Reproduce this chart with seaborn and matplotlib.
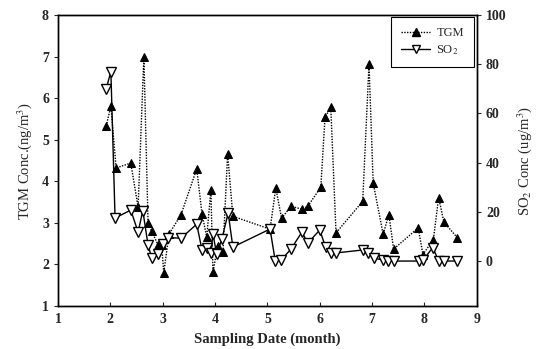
import matplotlib
matplotlib.use("Agg")
import matplotlib.pyplot as plt
import seaborn as sns
import pandas as pd
from matplotlib.lines import Line2D

tgm_month = [1.92, 2.01, 2.11, 2.39, 2.53, 2.64, 2.72, 2.79, 2.91, 2.98, 3.02, 3.12,
             3.35, 3.65, 3.75, 3.84, 3.92, 3.96, 4.05, 4.15, 4.24, 4.34, 5.05, 5.16,
             5.27, 5.45, 5.66, 5.77, 6.02, 6.10, 6.21, 6.31, 6.82, 6.94, 7.02, 7.21,
             7.32, 7.41, 7.88, 7.97, 8.17, 8.27, 8.37, 8.63]
tgm_conc = [5.33, 5.81, 4.32, 4.44, 3.38, 7.0, 3.0, 2.8, 2.47, 2.47, 1.8, 2.73,
            3.2, 4.3, 3.22, 2.66, 3.79, 1.82, 2.44, 2.3, 4.66, 3.16, 2.85, 3.84,
            3.11, 3.4, 3.33, 3.4, 3.86, 5.54, 5.78, 2.76, 3.52, 6.82, 3.96, 2.73,
            3.2, 2.37, 2.88, 2.24, 2.6, 3.61, 3.02, 2.64]

so2_month = [1.92, 2.01, 2.09, 2.39, 2.53, 2.62, 2.72, 2.79, 2.91, 3.0, 3.1, 3.35,
             3.65, 3.75, 3.84, 3.92, 3.96, 4.03, 4.13, 4.25, 4.34, 5.05, 5.15, 5.26,
             5.45, 5.66, 5.77, 6.0, 6.11, 6.21, 6.31, 6.82, 6.92, 7.03, 7.21, 7.31,
             7.41, 7.89, 7.97, 8.16, 8.27, 8.37, 8.63]
so2_conc = [70, 77, 17.5, 20.7, 11.8, 20.5, 6.5, 1.2, 2.8, 7, 9.5, 9.3,
            15, 4.5, 5.5, 3.3, 11, 2.8, 9, 19.5, 5.7, 13, 0, 0.3,
            4.9, 11.8, 7.3, 12.6, 5.7, 3.3, 3.3, 4.5, 3.3, 1.2, 0.4, 0,
            0, 0, 0.4, 5.5, 0, 0, 0]

x_ticks = [1, 2, 3, 4, 5, 6, 7, 8, 9]
left_ticks = [1, 2, 3, 4, 5, 6, 7, 8]
right_ticks = [0, 20, 40, 60, 80, 100]

sns.set_style("ticks")
plt.rcParams['font.family'] = ['Liberation Serif', 'DejaVu Serif']
plt.rcParams['mathtext.fontset'] = 'stix'

fig = plt.figure(figsize=(5.37, 3.49), dpi=100)
ax = fig.add_axes([0.108, 0.123, 0.780, 0.834])
ax2 = ax.twinx()

df_tgm = pd.DataFrame({"month": tgm_month, "conc": tgm_conc})
df_so2 = pd.DataFrame({"month": so2_month, "conc": so2_conc})

sns.lineplot(data=df_tgm, x="month", y="conc", ax=ax, sort=False, color="black",
             linestyle=(0, (1, 1)), linewidth=1.0, marker="^", markersize=6,
             markerfacecolor="black", markeredgecolor="black")
sns.lineplot(data=df_so2, x="month", y="conc", ax=ax2, sort=False, color="black",
             linestyle="-", linewidth=1.0, marker="v", markersize=6.5,
             markerfacecolor="white", markeredgecolor="black", markeredgewidth=1.0)

ax.set_xlim(1, 9)
ax.set_ylim(1, 8)
ax2.set_ylim(-18.3, 100)
ax.set_xticks(x_ticks)
ax.set_yticks(left_ticks)
ax2.set_yticks(right_ticks)

for a in (ax, ax2):
    for s in a.spines.values():
        s.set_visible(True)
        s.set_color("black")
        s.set_linewidth(1.0)

ax.tick_params(axis="x", direction="in", length=3, labelsize=10, pad=5)
ax.tick_params(axis="y", direction="out", length=3, labelsize=10)
ax2.tick_params(axis="y", direction="out", length=3, labelsize=10)
for lbl in ax.get_xticklabels() + ax.get_yticklabels() + ax2.get_yticklabels():
    lbl.set_fontweight("bold")

ax.set_xlabel("Sampling Date (month)", fontsize=10.5, fontweight="bold", labelpad=5)
ax.set_ylabel("TGM Conc.(ng/m$^3$)", fontsize=10.5, labelpad=6)
ax2.set_ylabel("SO$_2$ Conc (ug/m$^3$)", fontsize=10.5, labelpad=6)

handles = [
    Line2D([], [], color="black", linestyle=(0, (1, 1)), linewidth=1.0, marker="^",
           markersize=6, markerfacecolor="black"),
    Line2D([], [], color="black", linestyle="-", linewidth=1.0, marker="v",
           markersize=6, markerfacecolor="white", markeredgecolor="black"),
]
leg = ax2.legend(handles, ["TGM", "SO$_2$"], loc="upper right",
                 bbox_to_anchor=(0.993, 0.993), borderaxespad=0, fancybox=False,
                 framealpha=1, edgecolor="black", fontsize=9, handlelength=2.3,
                 borderpad=0.8, labelspacing=0.35, handletextpad=0.5)
leg.get_frame().set_linewidth(0.8)

fig.savefig("out.png", dpi=100)
